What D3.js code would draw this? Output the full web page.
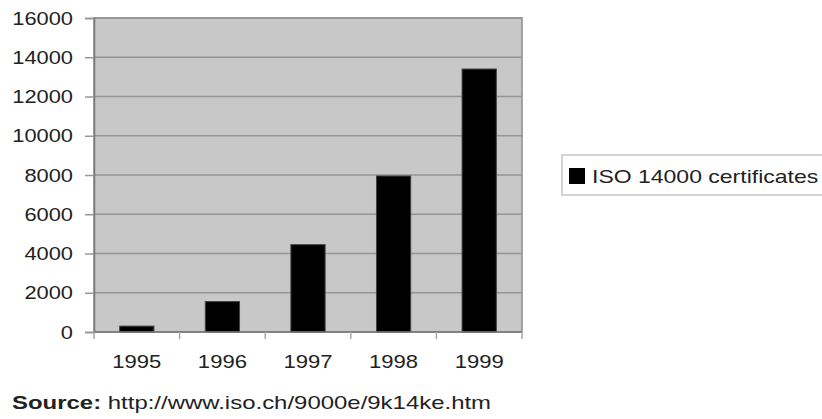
<!DOCTYPE html>
<html>
<head>
<meta charset="utf-8">
<script src="https://cdn.jsdelivr.net/npm/d3@7"></script>
<style>
  body { margin: 0; background: #fff; }
  text { font-family: 'Liberation Sans', Arial, sans-serif; fill: #222; }
</style>
</head>
<body>
<svg id="chart" width="822" height="419"></svg>
<script>
const years = ['1995', '1996', '1997', '1998', '1999'];
const certificates = [300, 1550, 4450, 7950, 13400];
const yTicks = [0, 2000, 4000, 6000, 8000, 10000, 12000, 14000, 16000];
const seriesName = 'ISO 14000 certificates';

const width = 822;
const height = 419;
const plot = { left: 94, right: 522, top: 18, bottom: 332 };

const svg = d3.select('#chart');

// widen a text element horizontally, the reference text is wider than normal
function widen(sel, factor) {
  sel.each(function () {
    const w = this.getComputedTextLength();
    d3.select(this).attr('textLength', w * factor).attr('lengthAdjust', 'spacingAndGlyphs');
  });
}

const x = d3.scaleBand()
  .domain(years)
  .range([plot.left, plot.right])
  .paddingInner(0.6)
  .paddingOuter(0.3);

const y = d3.scaleLinear()
  .domain([0, 16000])
  .range([plot.bottom, plot.top]);

// plot background
svg.append('rect')
  .attr('x', plot.left)
  .attr('y', plot.top)
  .attr('width', plot.right - plot.left)
  .attr('height', plot.bottom - plot.top)
  .attr('fill', '#c8c8c8')
  .attr('stroke', '#8c8c8c')
  .attr('stroke-width', 1.5);

// gridlines
svg.append('g')
  .selectAll('line')
  .data(yTicks.filter((d) => d > 0))
  .join('line')
  .attr('x1', plot.left)
  .attr('x2', plot.right)
  .attr('y1', (d) => y(d))
  .attr('y2', (d) => y(d))
  .attr('stroke', '#959595')
  .attr('stroke-width', 1.5);

// bars
svg.append('g')
  .selectAll('rect')
  .data(years.map((yr, i) => ({ year: yr, value: certificates[i] })))
  .join('rect')
  .attr('x', (d) => x(d.year))
  .attr('y', (d) => y(d.value))
  .attr('width', x.bandwidth())
  .attr('height', (d) => y(0) - y(d.value))
  .attr('fill', '#000')
  .attr('stroke', '#444')
  .attr('stroke-width', 1);

// y axis
const yAxis = svg.append('g')
  .attr('transform', `translate(${plot.left},0)`)
  .call(d3.axisLeft(y).tickValues(yTicks).tickSize(9).tickPadding(12).tickFormat(d3.format('d')));
yAxis.select('.domain').attr('stroke', '#777').attr('stroke-width', 1.5);
yAxis.selectAll('.tick line').attr('stroke', '#999').attr('stroke-width', 1.5);
yAxis.selectAll('.tick text')
  .attr('font-size', 19)
  .attr('fill', '#222')
  .call(widen, 1.15);

// x axis: ticks between categories
const xAxis = svg.append('g')
  .attr('transform', `translate(0,${plot.bottom})`);
xAxis.append('line')
  .attr('x1', plot.left)
  .attr('x2', plot.right)
  .attr('stroke', '#777')
  .attr('stroke-width', 1.5);
xAxis.selectAll('line.sep')
  .data(years)
  .join('line')
  .attr('class', 'sep')
  .attr('x1', (d) => x(d) + x.bandwidth() / 2 + x.step() / 2)
  .attr('x2', (d) => x(d) + x.bandwidth() / 2 + x.step() / 2)
  .attr('y1', 0)
  .attr('y2', 7)
  .attr('stroke', '#aaa')
  .attr('stroke-width', 1.5);
xAxis.append('line')
  .attr('x1', plot.left)
  .attr('x2', plot.left)
  .attr('y1', 0)
  .attr('y2', 7)
  .attr('stroke', '#aaa')
  .attr('stroke-width', 1.5);
xAxis.selectAll('text')
  .data(years)
  .join('text')
  .attr('x', (d) => x(d) + x.bandwidth() / 2)
  .attr('y', 36)
  .attr('text-anchor', 'middle')
  .attr('font-size', 19)
  .text((d) => d)
  .call(widen, 1.16);

// legend
const legend = svg.append('g').attr('transform', 'translate(562,155)');
legend.append('rect')
  .attr('width', 280)
  .attr('height', 40)
  .attr('fill', '#fff')
  .attr('stroke', '#d4d4d4')
  .attr('stroke-width', 2);
legend.append('rect')
  .attr('x', 7)
  .attr('y', 13)
  .attr('width', 16)
  .attr('height', 16)
  .attr('fill', '#000');
legend.append('text')
  .attr('x', 30)
  .attr('y', 28)
  .attr('font-size', 19)
  .text(seriesName)
  .call(widen, 1.21);

// source note
const source = svg.append('text')
  .attr('x', 12)
  .attr('y', 409)
  .attr('font-size', 19);
source.append('tspan').attr('font-weight', 'bold').text('Source:');
source.append('tspan').text(' http://www.iso.ch/9000e/9k14ke.htm');
source.call(widen, 1.26);
</script>
</body>
</html>
